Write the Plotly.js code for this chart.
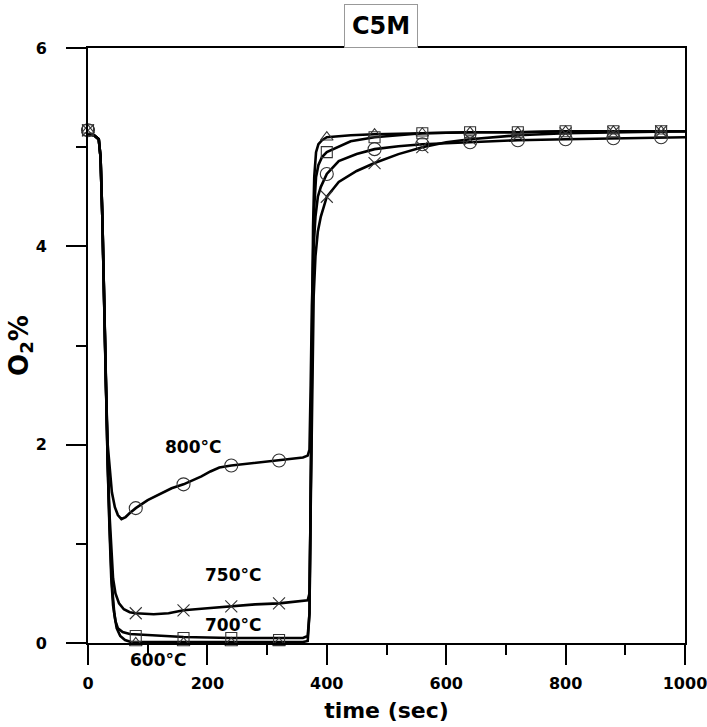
<!DOCTYPE html>
<html>
<head>
<meta charset="utf-8">
<script src="https://cdn.plot.ly/plotly-3.0.1.min.js"></script>
<style>html,body{margin:0;padding:0;background:#fff;}#chart{width:707px;height:727px;}</style>
</head>
<body>
<div id="chart"></div>
<script>
// ---- data ----
const seriesNames = ["600°C", "700°C", "750°C", "800°C"];

const t600 = [0, 10, 18, 21, 24, 27, 30, 33, 36, 40, 44, 48, 54, 62, 72, 120, 200, 280, 360, 368, 371, 373, 375, 377, 379, 382, 386, 392, 400, 440, 480, 560, 640, 720, 800, 880, 960, 1000];
const y600 = [5.13, 5.12, 5.08, 4.9, 4.3, 3.4, 2.6, 1.8, 1.2, 0.6, 0.3, 0.15, 0.07, 0.03, 0.01, 0.01, 0.01, 0.01, 0.01, 0.02, 0.3, 1.5, 3.0, 4.2, 4.7, 4.95, 5.03, 5.07, 5.1, 5.12, 5.13, 5.14, 5.15, 5.15, 5.16, 5.16, 5.16, 5.16];

const t700 = [0, 10, 18, 21, 24, 27, 30, 33, 36, 39, 42, 46, 50, 58, 70, 100, 160, 240, 320, 360, 368, 371, 373, 375, 377, 379, 382, 386, 392, 400, 440, 480, 560, 640, 720, 800, 880, 960, 1000];
const y700 = [5.13, 5.12, 5.08, 4.9, 4.3, 3.4, 2.6, 1.8, 1.15, 0.65, 0.38, 0.22, 0.15, 0.11, 0.09, 0.08, 0.06, 0.05, 0.05, 0.05, 0.07, 0.3, 1.5, 2.9, 3.9, 4.4, 4.7, 4.82, 4.9, 4.95, 5.06, 5.1, 5.14, 5.15, 5.15, 5.16, 5.16, 5.16, 5.16];

const t750 = [0, 10, 18, 21, 24, 27, 30, 33, 36, 39, 42, 46, 52, 60, 70, 80, 110, 135, 150, 160, 200, 240, 280, 320, 360, 368, 371, 373, 375, 378, 381, 385, 390, 400, 420, 450, 480, 520, 560, 600, 640, 720, 800, 880, 960, 1000];
const y750 = [5.13, 5.12, 5.08, 4.9, 4.3, 3.4, 2.6, 1.85, 1.3, 0.9, 0.65, 0.5, 0.4, 0.34, 0.31, 0.3, 0.29, 0.3, 0.32, 0.33, 0.35, 0.37, 0.39, 0.4, 0.42, 0.43, 0.5, 1.5, 2.6, 3.5, 3.9, 4.15, 4.3, 4.5, 4.65, 4.76, 4.84, 4.93, 5.0, 5.05, 5.08, 5.12, 5.14, 5.15, 5.16, 5.16];

const t800 = [0, 10, 18, 21, 24, 27, 30, 33, 36, 40, 45, 50, 56, 63, 70, 80, 100, 120, 140, 160, 175, 190, 205, 220, 240, 270, 300, 330, 360, 368, 371, 373, 375, 378, 381, 385, 390, 400, 420, 450, 480, 520, 560, 600, 640, 720, 800, 880, 960, 1000];
const y800 = [5.13, 5.12, 5.08, 4.9, 4.3, 3.4, 2.6, 2.0, 1.75, 1.52, 1.37, 1.29, 1.25, 1.27, 1.31, 1.36, 1.44, 1.5, 1.56, 1.6, 1.64, 1.68, 1.73, 1.77, 1.79, 1.81, 1.83, 1.85, 1.87, 1.89, 1.95, 2.6, 3.4, 4.0, 4.3, 4.5, 4.6, 4.73, 4.86, 4.93, 4.98, 5.01, 5.03, 5.04, 5.05, 5.07, 5.08, 5.09, 5.1, 5.1];

const markerTimes = [0, 80, 160, 240, 320, 400, 480, 560, 640, 720, 800, 880, 960];
const m600 = [5.17, 0.0, 0.0, 0.0, 0.0, 5.1, 5.13, 5.14, 5.15, 5.15, 5.16, 5.16, 5.16];
const m700 = [5.17, 0.07, 0.05, 0.05, 0.03, 4.95, 5.1, 5.14, 5.15, 5.15, 5.16, 5.16, 5.16];
const m750 = [5.17, 0.3, 0.33, 0.37, 0.4, 4.5, 4.84, 5.0, 5.08, 5.12, 5.14, 5.15, 5.16];
const m800 = [5.17, 1.36, 1.6, 1.79, 1.84, 4.73, 4.98, 5.03, 5.05, 5.07, 5.08, 5.09, 5.1];

const labelX = [117, 243, 243, 176];
const labelY = [-0.17, 0.18, 0.69, 1.98];

const xRange = [0, 1000];
const yRange = [0, 6];
const xTickVals = [0, 200, 400, 600, 800, 1000];
const yTickVals = [0, 2, 4, 6];

// ---- drawing ----
const FONT = "DejaVu Sans";
const lines = [[t600, y600], [t700, y700], [t750, y750], [t800, y800]];
const marks = [m600, m700, m750, m800];
const symbols = ["triangle-up-open", "square-open", "x-thin-open", "circle-open"];
const msizes = [11, 11, 12, 13];

const traces = [];
lines.forEach((l, i) => {
  traces.push({
    x: l[0], y: l[1], mode: "lines", type: "scatter", name: seriesNames[i],
    line: {color: "#000", width: 2.6, shape: "linear"},
    cliponaxis: false, showlegend: false, hoverinfo: "skip"
  });
});
marks.forEach((m, i) => {
  traces.push({
    x: markerTimes, y: m, mode: "markers", type: "scatter", name: seriesNames[i],
    marker: {symbol: symbols[i], size: msizes[i], color: "#333", line: {color: "#333", width: 1.1}},
    cliponaxis: false, showlegend: false
  });
});

// labels placed via paper coordinates of the y axis (so labels below the axis are still drawn)
const annotations = seriesNames.map((s, i) => ({
  x: labelX[i], y: (labelY[i] - yRange[0]) / (yRange[1] - yRange[0]), xref: "x", yref: "paper",
  xanchor: "center", yanchor: "middle",
  text: s, showarrow: false,
  font: {family: FONT, size: 17, color: "#000", weight: "bold"}
}));
annotations.push({
  x: 0.49, y: 1, xref: "paper", yref: "paper", xanchor: "center", yanchor: "bottom",
  text: "C5M", showarrow: false, bordercolor: "#999", borderwidth: 1, borderpad: 7, bgcolor: "#fff",
  font: {family: FONT, size: 24, color: "#000", weight: "bold"}
});

const axisCommon = {
  showline: true, linecolor: "#000", linewidth: 2, mirror: true,
  ticks: "outside", ticklen: 20, tickwidth: 2, tickcolor: "#000",
  showgrid: false, zeroline: false, fixedrange: true, ticklabeloverflow: "allow",
  tickfont: {family: FONT, size: 16, color: "#000", weight: "bold"}
};

const layout = {
  width: 707, height: 727, autosize: false,
  margin: {l: 88, r: 22, t: 48, b: 84},
  paper_bgcolor: "#fff", plot_bgcolor: "#fff",
  showlegend: false,
  xaxis: Object.assign({}, axisCommon, {
    range: xRange, tickvals: xTickVals, ticklabelstandoff: 5,
    minor: {dtick: 100, tick0: 0, ticks: "outside", ticklen: 10, tickwidth: 2, tickcolor: "#000"},
    title: {text: "time (sec)", standoff: 10, font: {family: FONT, size: 22, color: "#000", weight: "bold"}}
  }),
  yaxis: Object.assign({}, axisCommon, {
    range: yRange, tickvals: yTickVals, ticklabelstandoff: 16,
    minor: {dtick: 1, tick0: 0, ticks: "outside", ticklen: 10, tickwidth: 2, tickcolor: "#000"},
    title: {text: "O<sub>2</sub>%", standoff: 0, font: {family: FONT, size: 26, color: "#000", weight: "bold"}}
  }),
  annotations: annotations
};

Plotly.newPlot("chart", traces, layout, {displayModeBar: false, staticPlot: true});
</script>
</body>
</html>
